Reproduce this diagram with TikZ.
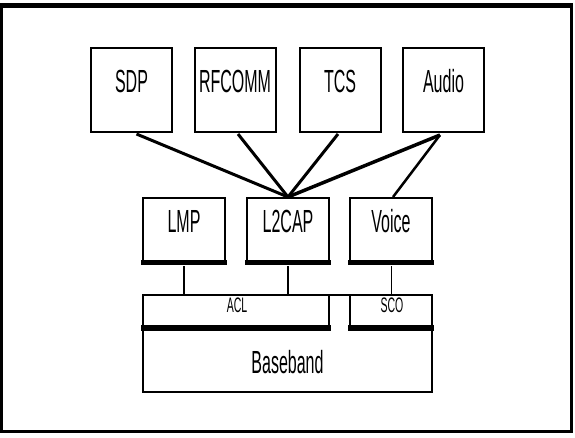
\documentclass[tikz,border=0pt]{standalone}
\usepackage{fontspec}
\newfontfamily\narrowfont{Liberation Sans}[FakeStretch=0.5]
\tikzset{
  box/.style={draw, line width=2pt, rectangle, inner sep=0pt, fill=white},
  topbox/.style={box, minimum width=81pt, minimum height=84pt},
  midbox/.style={box, minimum width=82pt, minimum height=64pt},
  lbl/.style={anchor=base, inner sep=0pt, font=\narrowfont\fontsize{32}{32}\selectfont},
  smalllbl/.style={anchor=base, inner sep=0pt, font=\narrowfont\fontsize{21}{21}\selectfont},
  shadowline/.style={line width=5pt},
  link/.style={line width=3pt},
  thinlink/.style={line width=1pt},
}
\begin{document}
\begin{tikzpicture}[x=1pt,y=-1pt]
\useasboundingbox (0,0) rectangle (575,437);
% outer frame
\draw[line width=3pt] (1.5,5.5) rectangle (571.5,431.5);
\draw[line width=5pt] (0,5.5) -- (573,5.5);
% top row
\node[topbox] (sdp)    at (131.5,90) {};
\node[topbox] (rfcomm) at (235,90) {};
\node[topbox] (tcs)    at (340,90) {};
\node[topbox] (audio)  at (443.5,90) {};
\node[lbl] (sdpt) at (131.5,92) {SDP};
\node[lbl] (rfcommt) at (235,92) {RFCOMM};
\node[lbl] (tcst) at (340,92) {TCS};
\node[lbl] (audiot) at (443.5,92) {Audio};
% middle row
\node[midbox] (lmp)   at (184,230) {};
\node[midbox] (l2cap) at (288,230) {};
\node[midbox] (voice) at (391,230) {};
\foreach \n in {lmp,l2cap,voice}{
  \draw[shadowline] ([yshift=0.5pt,xshift=-1pt]\n.south west) -- ([yshift=0.5pt,xshift=1pt]\n.south east);
}
\node[lbl] (lmpt) at (184,232) {LMP};
\node[lbl] (l2capt) at (288,232) {L2CAP};
\node[lbl] (voicet) at (391,232) {Voice};
% baseband block
\node[box, minimum width=289pt, minimum height=97pt] (baseband) at (287.5,343.5) {};
\node[box, minimum width=186pt, minimum height=33pt] (acl) at (236,311.5) {};
\node[box, minimum width=82pt, minimum height=33pt] (sco) at (391,311.5) {};
\draw[line width=6pt] ([xshift=-1pt,yshift=1pt]acl.south west) -- ([xshift=1pt,yshift=1pt]acl.south east);
\draw[line width=6pt] ([xshift=-1pt,yshift=1pt]sco.south west) -- ([xshift=1pt,yshift=1pt]sco.south east);
\node[smalllbl] (aclt) at (237,312) {ACL};
\node[smalllbl] (scot) at (392,312) {SCO};
\node[lbl] (basebandt) at (287.5,373) {Baseband};
% connectors top -> middle
\draw[link] ([xshift=5pt,yshift=-1pt]sdp.south) -- (l2cap.north);
\draw[link] ([xshift=3pt,yshift=-1pt]rfcomm.south) -- (l2cap.north);
\draw[link] ([xshift=-2pt,yshift=-1pt]tcs.south) -- (l2cap.north);
\draw[link, line width=3.5pt] ([xshift=-3.5pt,yshift=-2pt]audio.south) -- (l2cap.north);
\draw[link, line width=2.5pt] ([xshift=-3.5pt,yshift=-2pt]audio.south) -- ([xshift=2pt]voice.north);
% connectors middle -> baseband
\draw[line width=2pt] ([yshift=-3pt]lmp.south) -- (lmp.south |- acl.north);
\draw[line width=2pt] ([yshift=-3pt]l2cap.south) -- (l2cap.south |- acl.north);
\draw[thinlink] ([yshift=-3pt]voice.south) -- (sco.north);
\end{tikzpicture}
\end{document}
